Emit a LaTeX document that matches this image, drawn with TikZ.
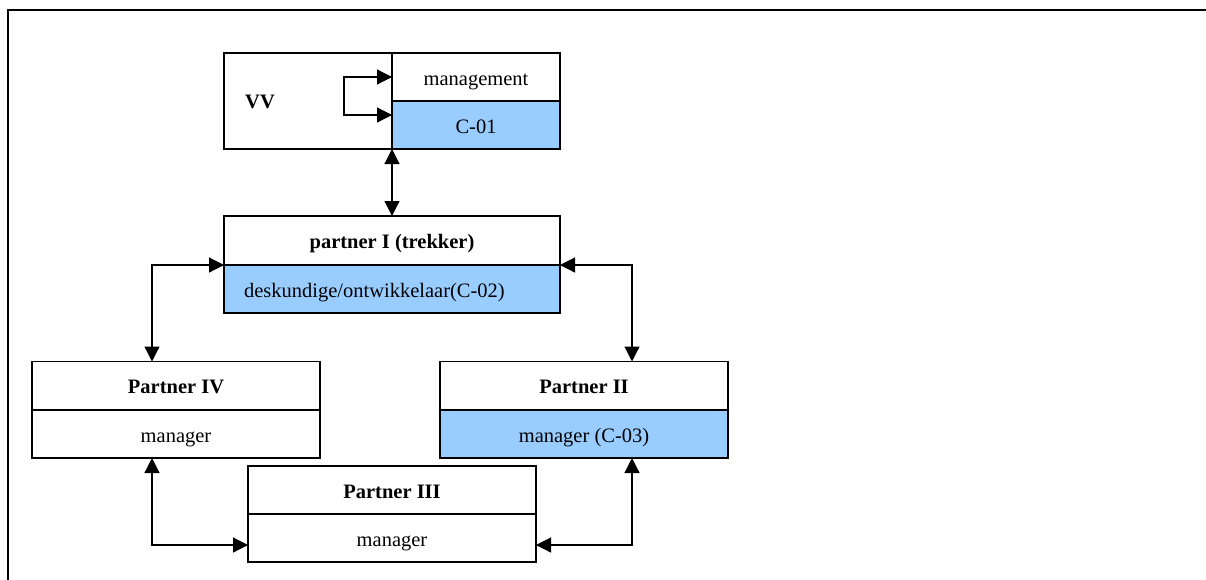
\documentclass[tikz,border=0pt]{standalone}
\usepackage{fontspec}
\setmainfont{Liberation Serif}
\usetikzlibrary{arrows.meta}
\definecolor{cellblue}{RGB}{153,204,255}
\tikzset{
  cell/.style={draw, line width=1.2pt, inner sep=0pt, outer sep=0pt, anchor=north west,
               text height=20pt, text depth=4pt,
               font=\fontsize{20.5}{24}\selectfont},
  bluecell/.style={cell, fill=cellblue},
  link/.style={line width=1.2pt, {Triangle[length=15pt,width=15pt]}-{Triangle[length=15pt,width=15pt]}},
  title/.style={font=\fontsize{20.5}{24}\selectfont\bfseries}
}
\begin{document}
\begin{tikzpicture}[x=1pt,y=-1pt]
\useasboundingbox (0,0) rectangle (1206,579);
% frame
\draw[line width=1.6pt] (8,580) -- (8,10) -- (1207,10);

% VV block
\node[cell, minimum width=168pt, minimum height=96pt] (vvL) at (224,53) {};
\node[title, anchor=west, inner sep=0pt] (vvT) at (245,102) {VV};
\node[cell, minimum width=168pt, minimum height=48pt] (vvTop) at (392,53) {management};
\node[bluecell, minimum width=168pt, minimum height=48pt] (vvBot) at (392,101) {C-01};
\draw[link] (vvTop.west) -- ++(-48,0) |- ([yshift=10pt]vvBot.west);

% partner I
\node[cell, title, minimum width=336pt, minimum height=49pt] (p1top) at (224,216) {partner I (trekker)};
\node[bluecell, minimum width=336pt, minimum height=48pt, text width=296pt, align=left] (p1bot) at (224,265) {deskundige/ontwikkelaar(C-02)};

% partner IV
\node[cell, title, minimum width=288pt, minimum height=48.5pt] (p4top) at (32,361.5) {Partner IV};
\node[cell, minimum width=288pt, minimum height=48pt] (p4bot) at (32,410) {manager};

% partner II
\node[cell, title, minimum width=288pt, minimum height=48.5pt] (p2top) at (440,361.5) {Partner II};
\node[bluecell, minimum width=288pt, minimum height=48pt] (p2bot) at (440,410) {manager (C-03)};

% partner III
\node[cell, title, minimum width=288pt, minimum height=48pt] (p3top) at (248,466) {Partner III};
\node[cell, minimum width=288pt, minimum height=48pt] (p3bot) at (248,514) {manager};

% connectors
\draw[link] (vvL.south east) -- (vvL.south east |- p1top.north);
\draw[link] (p1top.south west) -| ([xshift=-24pt]p4top.north);
\draw[link] (p1top.south east) -| ([xshift=48pt]p2top.north);
\draw[link] ([xshift=-24pt]p4bot.south) |- ([yshift=-7pt]p3bot.west);
\draw[link] ([xshift=48pt]p2bot.south) |- ([yshift=-7pt]p3bot.east);
\end{tikzpicture}
\end{document}
